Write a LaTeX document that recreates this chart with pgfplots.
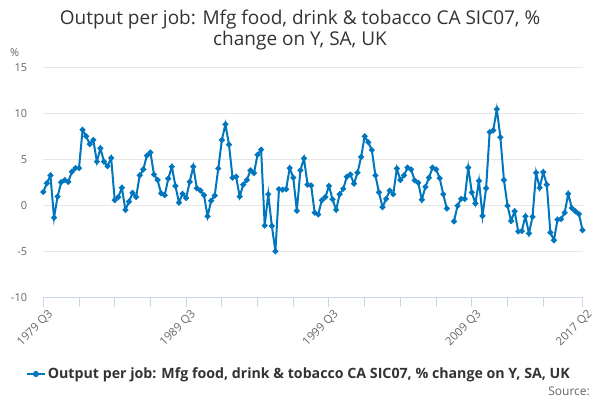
\documentclass[border=0pt]{standalone}
\usepackage{pgfplots}
\pgfplotsset{compat=1.18}
\usepackage{fontspec}
\setmainfont{Open Sans}
\definecolor{serc}{HTML}{0076BE}
\definecolor{gridc}{HTML}{E6E6E6}
\definecolor{axisc}{HTML}{CCD6EB}
\definecolor{tickc}{HTML}{666666}
\definecolor{ttlc}{HTML}{333333}
\pgfplotstableread{
x y
0 1.45
1 2.4
2 3.25
3 -1.35
4 0.95
5 2.5
6 2.75
7 2.55
8 3.65
9 4.05
10 4.05
11 8.2
12 7.5
13 6.65
14 7.1
15 4.75
16 6.2
17 4.75
18 4.25
19 5.15
20 0.55
21 0.9
22 1.9
23 -0.5
24 0.4
25 1.35
26 0.9
27 3.25
28 3.9
29 5.4
30 5.75
31 3.35
32 2.75
33 1.3
34 1.1
35 2.9
36 4.2
37 2.1
38 0.3
39 1.25
40 0.8
41 2.55
42 4.2
43 1.85
44 1.6
45 1.1
46 -1.2
47 0.5
48 1.05
49 4.0
50 7.1
51 8.8
52 6.6
53 3.0
54 3.1
55 0.95
56 2.25
57 2.75
58 3.8
59 3.5
60 5.5
61 6.05
62 -2.2
63 1.2
64 -2.25
65 -5.0
66 1.75
67 1.7
68 1.75
69 4.05
70 3.0
71 -0.6
72 3.8
73 5.1
74 2.25
75 2.15
76 -0.8
77 -1.0
78 0.55
79 0.9
80 2.1
81 0.65
82 -0.5
83 1.2
84 1.8
85 3.1
86 3.35
87 2.35
88 3.55
89 5.25
90 7.5
91 6.85
92 6.0
93 3.25
94 1.4
95 -0.2
96 0.7
97 1.6
98 1.2
99 4.0
100 2.75
101 3.25
102 4.1
103 3.9
104 2.7
105 2.45
106 0.6
107 2.0
108 3.0
109 4.1
110 3.9
111 2.95
112 1.2
113 -0.35
114 nan
115 -1.75
116 -0.05
117 0.7
118 0.7
119 4.1
120 1.4
121 0.2
122 2.65
123 -1.15
124 1.85
125 7.95
126 8.15
127 10.45
128 7.4
129 2.75
130 -0.05
131 -1.7
132 -0.65
133 -2.85
134 -2.8
135 -1.2
136 -3.05
137 -1.25
138 3.55
139 1.9
140 3.6
141 2.25
142 -2.95
143 -3.8
144 -1.55
145 -1.5
146 -0.8
147 1.25
148 -0.3
149 -0.65
150 -0.95
151 -2.7
}\datatable
\begin{document}
\begin{tikzpicture}[x=1bp,y=1bp]
\path[use as bounding box] (0,0) rectangle (600,400);
\node[anchor=base, text=ttlc, font=\fontsize{19bp}{23bp}\selectfont] at (300,376) {Output per job: Mfg food, drink \& tobacco CA SIC07, \%};
\node[anchor=base, text=ttlc, font=\fontsize{19bp}{23bp}\selectfont] at (300,355) {change on Y, SA, UK};
\node[anchor=base west, text=tickc, font=\fontsize{11bp}{13bp}\selectfont, inner sep=0pt] at (10,344) {\%};
\node[anchor=base east, text=tickc, font=\fontsize{12bp}{14bp}\selectfont, inner sep=0pt] at (590,5) {Source:};
\begin{axis}[
  at={(43.3bp,102.7bp)}, anchor=south west,
  width=539.2bp, height=230bp, scale only axis,
  xmin=0, xmax=151, ymin=-10, ymax=15,
  clip=false,
  axis x line*=bottom, axis y line*=left,
  x axis line style={axisc, line width=1bp, -},
  y axis line style={draw=none},
  ytick={-10,-5,0,5,10,15},
  ymajorgrids, grid style={gridc, line width=1bp},
  ytick style={draw=none},
  yticklabel style={font=\fontsize{11bp}{13bp}\selectfont, text=tickc, inner sep=0pt, xshift=-16bp, anchor=east},
  xtick={0,10,20,30,40,50,60,70,80,90,100,110,120,130,140,151},
  xticklabels={1979 Q3,,,,1989 Q3,,,,1999 Q3,,,,2009 Q3,,,2017 Q2},
  xtick align=outside, major tick length=10bp,
  xtick style={axisc, line width=1bp},
  xticklabel style={font=\fontsize{11.5bp}{13bp}\selectfont, text=tickc, rotate=45, anchor=east, inner sep=0pt, yshift=-9bp, xshift=2bp},
  /pgf/number format/assume math mode=true,
  legend style={at={(axis description cs:0.474,-0.3335)}, anchor=center, draw=none, fill=none,
    font=\bfseries\fontsize{14.2bp}{16bp}\selectfont, text=ttlc, inner sep=0pt},
  legend image code/.code={\draw[serc, line width=2bp] (0bp,0bp) -- (18bp,0bp); \fill[serc] (9bp,0bp) circle (2bp);},
  unbounded coords=jump,
]
\addplot[serc, line width=2bp, mark=*, mark size=1.8bp, mark options={serc}] table[x=x,y=y] {\datatable};
\addlegendentry{Output per job: Mfg food, drink \& tobacco CA SIC07, \% change on Y, SA, UK}
\end{axis}
\end{tikzpicture}
\end{document}
